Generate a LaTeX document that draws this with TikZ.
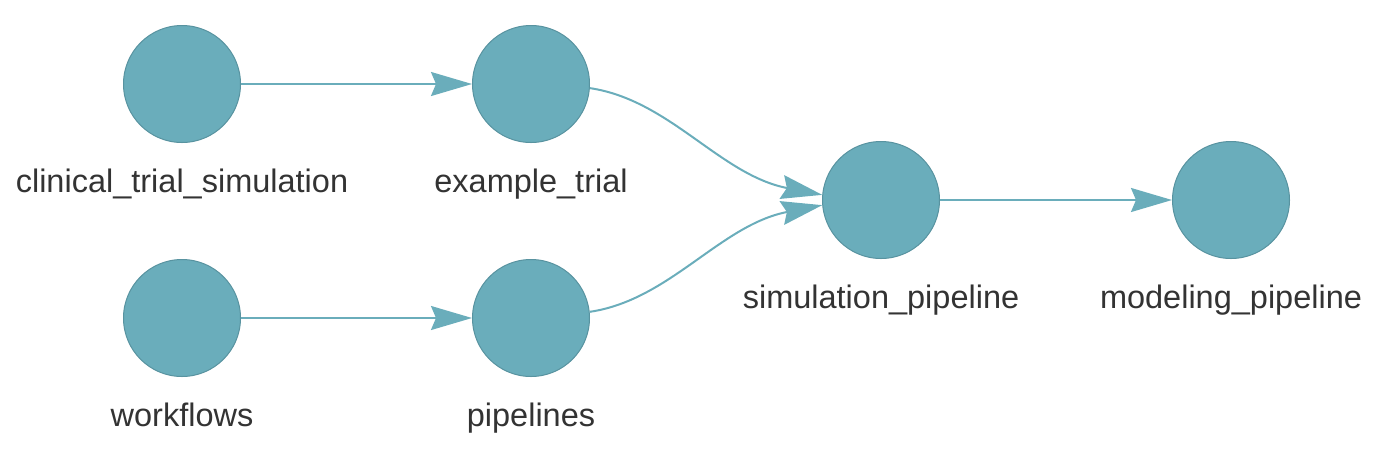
\documentclass[tikz,border=0pt]{standalone}
\usepackage{fontspec}
\setmainfont{Liberation Sans}
\usetikzlibrary{arrows.meta}
\definecolor{tealnode}{HTML}{6AADBB}
\definecolor{tealrim}{HTML}{5893A0}
\definecolor{nametext}{HTML}{333333}

\tikzset{
  target/.style={circle,fill=tealnode,draw=tealrim,line width=1pt,minimum size=117pt,inner sep=0pt},
  tname/.style={anchor=base,text=nametext,font=\fontsize{32.5}{38}\selectfont},
  dep/.style={draw=tealnode,line width=2pt,-{Stealth[length=41pt,width=24pt,inset=5pt]}}
}

\begin{document}
\begin{tikzpicture}[x=1pt,y=-1pt]
    \useasboundingbox (0,0) rectangle (1377,451);
    %targets
    \node[target] (clinical) at (182,84) {};
    \node[target] (example) at (531,84) {};
    \node[target] (simpipe) at (881,200) {};
    \node[target] (modpipe) at (1231,200) {};
    \node[target] (workflows) at (182,318) {};
    \node[target] (pipelines) at (531,318) {};
    %names under the targets
    \node[tname] (clinical-name) at (182,192) {clinical\_trial\_simulation};
    \node[tname] (example-name) at (531,192) {example\_trial};
    \node[tname] (simpipe-name) at (881,308) {simulation\_pipeline};
    \node[tname] (modpipe-name) at (1231,308) {modeling\_pipeline};
    \node[tname] (workflows-name) at (182,426) {workflows};
    \node[tname] (pipelines-name) at (531,426) {pipelines};
    %dependencies
    \draw[dep] (clinical) -- (example);
    \draw[dep] (workflows) -- (pipelines);
    \draw[dep] (simpipe) -- (modpipe);
    \draw[dep] (example.-4) .. controls (670,100) and (720,175) .. (simpipe.175);
    \draw[dep] (pipelines.6) .. controls (670,300) and (720,225) .. (simpipe.185);
\end{tikzpicture}
\end{document}
